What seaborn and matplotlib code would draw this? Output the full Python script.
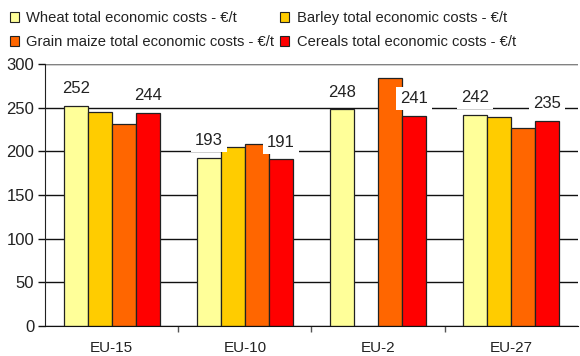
import matplotlib
matplotlib.use("Agg")
import matplotlib.pyplot as plt
import seaborn as sns
import numpy as np
import pandas as pd
from matplotlib.patches import Patch
from matplotlib.ticker import FixedLocator

regions = ["EU-15", "EU-10", "EU-2", "EU-27"]
series = ["Wheat total economic costs - €/t", "Barley total economic costs - €/t",
          "Grain maize total economic costs - €/t", "Cereals total economic costs - €/t"]
wheat = [252, 193, 248, 242]
barley = [245, 205, np.nan, 239]
maize = [231, 208, 284, 227]
cereals = [244, 191, 241, 235]
colors = ["#FFFF99", "#FFCC00", "#FF6600", "#FF0000"]

df = pd.DataFrame({
    "region": regions * 4,
    "series": sum([[s] * 4 for s in series], []),
    "value": wheat + barley + maize + cereals,
})

sns.set_style("white")
plt.rcParams['font.family'] = ['Liberation Sans', 'DejaVu Sans']

fig = plt.figure(figsize=(5.8, 3.56), dpi=100)
ax = fig.add_axes([0.078, 0.084, 0.918, 0.736])

sns.barplot(data=df, x="region", y="value", hue="series", hue_order=series,
            palette=colors, width=0.72, edgecolor="#222222", linewidth=0.9,
            saturation=1, ax=ax, legend=False, zorder=2)

ax.set_ylim(0, 300)
ax.set_xlim(-0.5, 3.5)
ax.set_yticks(range(0, 301, 50))
ax.yaxis.grid(True, color="#111111", linewidth=1.0, zorder=0)
ax.set_axisbelow(True)
for s in ["right", "top"]:
    ax.spines[s].set_visible(False)
ax.spines["bottom"].set_color("#111111")
ax.spines["left"].set_color("#222222")
ax.axhline(300, color="#999999", linewidth=1.2, zorder=1)
ax.set_xlabel("")
ax.set_ylabel("")
ax.tick_params(axis="y", left=True, length=5, width=1, color="#111111",
               labelsize=12, pad=3, labelcolor="#222222")
ax.tick_params(axis="x", bottom=False, labelsize=11, pad=7, labelcolor="#222222")
ax.xaxis.set_minor_locator(FixedLocator([0.5, 1.5, 2.5]))
ax.tick_params(axis="x", which="minor", bottom=True, length=4, width=1, color="#555555")

n = len(series)
w = 0.72 / n
for i, r in enumerate(regions):
    for j, vals in [(0, wheat), (3, cereals)]:
        xc = i - 0.36 + w * (j + 0.5)
        ax.annotate(f"{vals[i]:.0f}", (xc, vals[i]), xytext=(0, 7),
                    textcoords="offset points", ha="center", va="bottom",
                    fontsize=12, color="#222222", zorder=5,
                    bbox=dict(boxstyle="square,pad=0.25", fc="white", ec="none"))

handles = [Patch(facecolor=c, edgecolor="#222222", linewidth=0.8) for c in colors]
order = [0, 2, 1, 3]
fig.legend([handles[k] for k in order], [series[k] for k in order],
           loc="upper left", bbox_to_anchor=(0.0, 0.995), ncol=2,
           frameon=False, fontsize=10.6, handlelength=0.65, handleheight=0.65,
           handletextpad=0.5, columnspacing=0.35, labelspacing=0.65,
           borderaxespad=0.25, labelcolor="#222222")

fig.savefig("out.png", dpi=100)
